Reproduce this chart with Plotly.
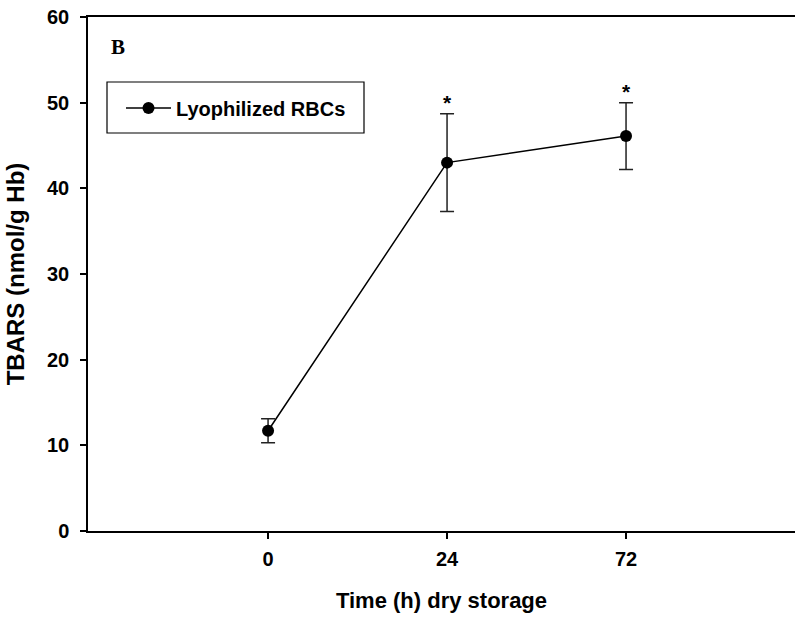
import plotly.graph_objects as go

categories = ["0", "24", "72"]
tbars_mean = [11.7, 43.0, 46.1]
tbars_err = [1.4, 5.7, 3.9]
sig_marks = ["", "*", "*"]
y_ticks = [0, 10, 20, 30, 40, 50, 60]

series_name = "Lyophilized RBCs"
panel_label = "B"

W, H = 795, 624
ML, MR, MT, MB = 88, 0, 17, 93
PW, PH = W - ML - MR, H - MT - MB

FONT = "Liberation Sans, Arial"

fig = go.Figure()

fig.add_trace(go.Scatter(
    x=categories, y=tbars_mean,
    mode="lines+markers",
    name=series_name,
    line=dict(color="black", width=1.5),
    marker=dict(color="black", size=12, symbol="circle"),
    error_y=dict(type="data", array=tbars_err, visible=True,
                 color="#222222", thickness=1.5, width=7),
))

# significance asterisks above the error bars
sig_x = [c for c, s in zip(categories, sig_marks) if s]
sig_y = [m + e + 1.0 for m, e, s in zip(tbars_mean, tbars_err, sig_marks) if s]
fig.add_trace(go.Scatter(
    x=sig_x, y=sig_y, mode="text",
    text=[s for s in sig_marks if s],
    textposition="middle center",
    textfont=dict(family=FONT, size=21, color="black", weight="bold"),
    showlegend=False, hoverinfo="skip",
))

fig.update_layout(
    width=W, height=H,
    margin=dict(l=ML, r=MR, t=MT, b=MB, pad=0),
    paper_bgcolor="white", plot_bgcolor="white",
    font=dict(family=FONT, color="black"),
    showlegend=True,
    legend=dict(
        x=(121 - ML) / PW, y=(531 - 108) / PH, xanchor="left", yanchor="middle",
        bgcolor="rgba(0,0,0,0)", borderwidth=0, itemwidth=45,
        font=dict(family=FONT, size=20, color="black", weight="bold"),
    ),
)

fig.update_xaxes(
    type="category",
    categoryorder="array", categoryarray=categories,
    range=[-1.006, 2.944],
    showline=True, linecolor="black", linewidth=1.5, mirror=True,
    ticks="outside", ticklen=6, tickwidth=1.5, tickcolor="black",
    ticklabelstandoff=3,
    showgrid=False, zeroline=False,
    tickfont=dict(family=FONT, size=20, color="black", weight="bold"),
    title=dict(text="Time (h) dry storage", standoff=24,
               font=dict(family=FONT, size=22, color="black", weight="bold")),
)

fig.update_yaxes(
    range=[0, 60], tickvals=y_ticks,
    showline=True, linecolor="black", linewidth=1.5, mirror=False,
    ticks="outside", ticklen=6, tickwidth=1.5, tickcolor="black",
    ticklabelstandoff=7,
    showgrid=False, zeroline=False,
    tickfont=dict(family=FONT, size=20, color="black", weight="bold"),
    title=dict(text="TBARS (nmol/g Hb)", standoff=16,
               font=dict(family=FONT, size=24, color="black", weight="bold")),
)

# legend frame
fig.add_shape(type="rect", xref="paper", yref="paper",
              x0=(107 - ML) / PW, x1=(364 - ML) / PW,
              y0=(531 - 133) / PH, y1=(531 - 82) / PH,
              line=dict(color="black", width=1.2), fillcolor="rgba(0,0,0,0)")

# panel label
fig.add_annotation(text=panel_label, xref="paper", yref="paper",
                   x=(109 - ML) / PW, y=(531 - 47) / PH,
                   xanchor="left", yanchor="middle", showarrow=False,
                   font=dict(family="Liberation Serif, Times New Roman", size=21,
                             color="black", weight="bold"))

fig.write_html("out.html")
